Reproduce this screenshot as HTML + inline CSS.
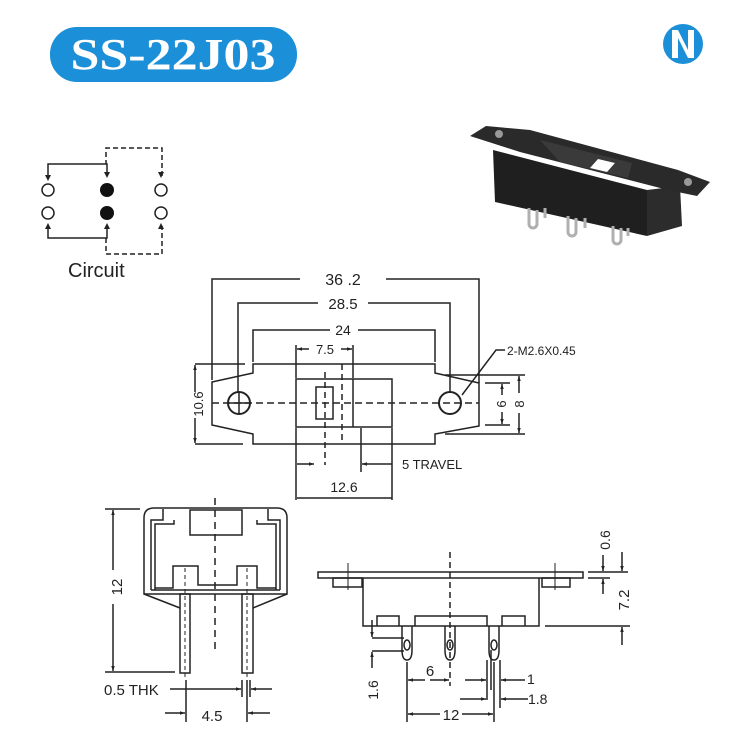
<!DOCTYPE html>
<html><head><meta charset="utf-8"><style>
html,body{margin:0;padding:0;background:#fff;}
svg{display:block;}
text{font-family:"Liberation Sans",sans-serif;fill:#222;}
</style></head><body>
<svg width="735" height="744" viewBox="0 0 735 744" xmlns="http://www.w3.org/2000/svg">
<defs>
<marker id="a" viewBox="0 0 10 10" refX="10" refY="5" markerWidth="7" markerHeight="5" orient="auto-start-reverse" markerUnits="userSpaceOnUse"><path d="M0,1.5 L10,5 L0,8.5z" fill="#222"/></marker>
</defs>
<!-- title -->
<rect x="50" y="27" width="247" height="55" rx="27" fill="#1b8fd8"/>
<text x="173" y="69" text-anchor="middle" textLength="205" lengthAdjust="spacingAndGlyphs" style="font-family:'Liberation Serif',serif;font-weight:bold;font-size:44px;fill:#fff">SS-22J03</text>
<!-- logo -->
<circle cx="683" cy="44" r="20" fill="#1b8fd8"/>
<path d="M672,30 h6 l10,20 v-20 h6 v28 h-6 l-10,-20 v20 h-6z" fill="#fff"/>
<!-- photo -->
<g>
<polygon points="493,150 647,190 647,236 495,202" fill="#1f1f1f"/>
<polygon points="647,190 680,186 682,226 647,236" fill="#2c2c2c"/>
<polygon points="470,136 486,126 530,130 678,170 710,182 697,196 668,190 520,152" fill="#2a2a2a"/>
<polygon points="540,140 632,163 628,178 560,162" fill="#3a3a3a"/>
<polygon points="590,168 598,159 615,163 607,172" fill="#fff"/>
<circle cx="499" cy="134" r="4" fill="#999"/><circle cx="688" cy="182" r="4" fill="#999"/>
<g fill="none" stroke="#b0b0b0" stroke-width="3">
<path d="M529,208 v16 a4,4 0 0 0 8,0 v-14"/><path d="M568,216 v16 a4,4 0 0 0 8,0 v-14"/><path d="M613,226 v14 a4,4 0 0 0 8,0 v-12"/>
<path d="M545,208 v10"/><path d="M585,218 v10"/><path d="M628,228 v8"/>
</g>
</g>
<!-- circuit -->
<g stroke="#222" stroke-width="1.5" fill="none">
<path d="M48,178 V164 H107 V176" />
<path d="M48,226 V238 H107 V226"/>
<path d="M106,238 V254 H162 V226 M162,176 V148 H106 V164" stroke-dasharray="5,3"/>
<circle cx="48" cy="190" r="6"/><circle cx="48" cy="213" r="6"/>
<circle cx="161" cy="190" r="6"/><circle cx="161" cy="213" r="6"/>
</g>
<circle cx="107" cy="190" r="7" fill="#111"/><circle cx="107" cy="213" r="7" fill="#111"/>
<g fill="#222"><path d="M45,175 h6 l-3,6z"/><path d="M104,172 h6 l-3,6z"/><path d="M158,172 h6 l-3,6z"/>
<path d="M45,229 h6 l-3,-6z"/><path d="M104,229 h6 l-3,-6z"/><path d="M158,229 h6 l-3,-6z"/></g>
<text x="68" y="277" font-size="20">Circuit</text>

<!-- top view -->
<g stroke="#222" stroke-width="1.5" fill="none">
<polygon points="212,382 253,373 253,364 435,364 435,373 479,383 479,426 435,434 435,444 253,444 253,434 212,425"/>
<circle cx="239" cy="403" r="11" stroke-width="2"/>
<circle cx="450" cy="403" r="11" stroke-width="2"/>
<line x1="212" y1="403" x2="479" y2="403" stroke-dasharray="7,4"/>
<rect x="296" y="379" width="96" height="48"/>
<line x1="353" y1="379" x2="353" y2="427"/>
<rect x="316" y="387" width="17" height="32"/>
<line x1="325" y1="372" x2="325" y2="465" stroke-dasharray="6,4"/>
<line x1="342" y1="364" x2="342" y2="440" stroke-dasharray="6,4"/>
<line x1="239" y1="392" x2="239" y2="414"/><line x1="228" y1="403" x2="250" y2="403"/>
<path d="M212,380 V279 H300 M386,279 H479 V383"/>
<path d="M238,392 V303 H318 M368,303 H450 V392"/>
<path d="M253,362 V330 H330 M358,330 H435 V362"/>
<path d="M296,378 V345 M353,378 V345"/>
<path d="M195,364 H245 M195,444 H243"/>
<path d="M485,383 H510 M485,425 H510 M445,375 H525 M445,434 H525"/>
<path d="M296,428 V500 M361,428 V472 M392,428 V500"/>
<path d="M505,350 H496 L462,395"/>
</g>
<g stroke="#222" stroke-width="1.5">
<line x1="309" y1="349" x2="297" y2="349" marker-end="url(#a)"/>
<line x1="341" y1="349" x2="352" y2="349" marker-end="url(#a)"/>
<line x1="195" y1="392" x2="195" y2="365" marker-end="url(#a)"/>
<line x1="195" y1="418" x2="195" y2="443" marker-end="url(#a)"/>
<line x1="502" y1="395" x2="502" y2="384" marker-end="url(#a)"/>
<line x1="502" y1="412" x2="502" y2="424" marker-end="url(#a)"/>
<line x1="519" y1="393" x2="519" y2="376" marker-end="url(#a)"/>
<line x1="519" y1="413" x2="519" y2="433" marker-end="url(#a)"/>
<line x1="297" y1="464" x2="314" y2="464" marker-end="url(#a)"/>
<line x1="392" y1="464" x2="362" y2="464" marker-end="url(#a)"/>
<line x1="297" y1="498" x2="392" y2="498"/>
</g>
<g font-size="14">
<text x="343" y="285" text-anchor="middle" font-size="16">36 .2</text>
<text x="343" y="309" text-anchor="middle" font-size="15">28.5</text>
<text x="343" y="335" text-anchor="middle">24</text>
<text x="325" y="354" text-anchor="middle" font-size="13">7.5</text>
<text x="507" y="355" font-size="12">2-M2.6X0.45</text>
<text x="402" y="469" font-size="13">5 TRAVEL</text>
<text x="344" y="492" text-anchor="middle">12.6</text>
<text transform="translate(203,404) rotate(-90)" text-anchor="middle" font-size="13">10.6</text>
<text transform="translate(506,404) rotate(-90)" text-anchor="middle" font-size="13">6</text>
<text transform="translate(524,404) rotate(-90)" text-anchor="middle" font-size="13">8</text>
</g>

<!-- front view -->
<g stroke="#222" stroke-width="1.5" fill="none">
<path d="M144,594 V518 Q144,508 154,508 H277 Q287,508 287,518 V594 Z"/>
<path d="M144,594 L180,608 M287,594 L253,608"/>
<path d="M151,590 V520 H163 V509 M280,590 V520 H268 V509"/>
<path d="M155,590 V524 H174 V520 M276,590 V524 H257 V520"/>
<path d="M151,590 H280"/>
<rect x="190" y="510" width="52" height="25"/>
<path d="M155,588 H173 V566 H198 V585 H237 V566 H257 V588 H276"/>
<rect x="180" y="594" width="10" height="79"/>
<rect x="242" y="594" width="11" height="79"/>
<line x1="185" y1="568" x2="185" y2="678" stroke-dasharray="4,3" stroke-width="1"/>
<line x1="247" y1="568" x2="247" y2="678" stroke-dasharray="4,3" stroke-width="1"/>
<line x1="215" y1="498" x2="215" y2="650" stroke-dasharray="7,5"/>
<path d="M105,509 H140 M105,672 H175"/>
<path d="M186,680 V722 M247,680 V722 M242,680 V697 M250,680 V697"/>
</g>
<g stroke="#222" stroke-width="1.5">
<line x1="113" y1="570" x2="113" y2="510" marker-end="url(#a)"/>
<line x1="113" y1="604" x2="113" y2="671" marker-end="url(#a)"/>
<line x1="170" y1="689" x2="241" y2="689" marker-end="url(#a)"/>
<line x1="272" y1="689" x2="251" y2="689" marker-end="url(#a)"/>
<line x1="165" y1="713" x2="185" y2="713" marker-end="url(#a)"/>
<line x1="270" y1="713" x2="248" y2="713" marker-end="url(#a)"/>
</g>
<text transform="translate(122,587) rotate(-90)" text-anchor="middle" font-size="15">12</text>
<text x="104" y="695" font-size="15">0.5 THK</text>
<text x="212" y="721" text-anchor="middle" font-size="15">4.5</text>

<!-- side view -->
<g stroke="#222" stroke-width="1.5" fill="none">
<rect x="318" y="572" width="265" height="6"/>
<rect x="333" y="578" width="29" height="9"/>
<rect x="542" y="578" width="28" height="9"/>
<path d="M348,563 V590 M555,563 V590" stroke-width="1"/>
<path d="M363,578 V626 H539 V578"/>
<path d="M377,626 V616 H399 V626 M415,626 V616 H487 V626 M502,626 V616 H525 V626"/>
<path d="M402,626 V650 Q402,660 407,660 Q412,660 412,650 V626"/>
<path d="M445,626 V650 Q445,660 450,660 Q455,660 455,650 V626"/>
<path d="M489,626 V650 Q489,660 494,660 Q499,660 499,650 V626"/>
<ellipse cx="407" cy="645" rx="3" ry="5"/><ellipse cx="450" cy="645" rx="3" ry="5"/><ellipse cx="494" cy="645" rx="3" ry="5"/>
<line x1="450" y1="552" x2="450" y2="686" stroke-dasharray="6,4"/>
<path d="M588,572 H628 M588,578 H610 M545,626 H630"/>
<path d="M372,638 H404 M372,651 H404"/>
<path d="M407,662 V722 M494,662 V722 M487,660 V700 M500,660 V708 M491,650 V690"/>
</g>
<g stroke="#222" stroke-width="1.5">
<line x1="603" y1="555" x2="603" y2="571" marker-end="url(#a)"/>
<line x1="603" y1="594" x2="603" y2="579" marker-end="url(#a)"/>
<line x1="622" y1="552" x2="622" y2="571" marker-end="url(#a)"/>
<line x1="622" y1="645" x2="622" y2="627" marker-end="url(#a)"/>
<line x1="372" y1="620" x2="372" y2="637" marker-end="url(#a)"/>
<line x1="372" y1="668" x2="372" y2="652" marker-end="url(#a)"/>
<line x1="425" y1="680" x2="408" y2="680" marker-end="url(#a)"/>
<line x1="430" y1="680" x2="449" y2="680" marker-end="url(#a)"/>
<line x1="465" y1="680" x2="486" y2="680" marker-end="url(#a)"/>
<line x1="525" y1="680" x2="501" y2="680" marker-end="url(#a)"/>
<line x1="460" y1="699" x2="486" y2="699" marker-end="url(#a)"/>
<line x1="528" y1="699" x2="501" y2="699" marker-end="url(#a)"/>
<line x1="440" y1="714" x2="408" y2="714" marker-end="url(#a)"/>
<line x1="462" y1="714" x2="493" y2="714" marker-end="url(#a)"/>
</g>
<text transform="translate(610,540) rotate(-90)" text-anchor="middle" font-size="14">0.6</text>
<text transform="translate(629,600) rotate(-90)" text-anchor="middle" font-size="15">7.2</text>
<text transform="translate(378,690) rotate(-90)" text-anchor="middle" font-size="14">1.6</text>
<text x="430" y="676" text-anchor="middle" font-size="15">6</text>
<text x="527" y="684" font-size="14">1</text>
<text x="528" y="704" font-size="14">1.8</text>
<text x="451" y="720" text-anchor="middle" font-size="15">12</text>
</svg>
</body></html>
